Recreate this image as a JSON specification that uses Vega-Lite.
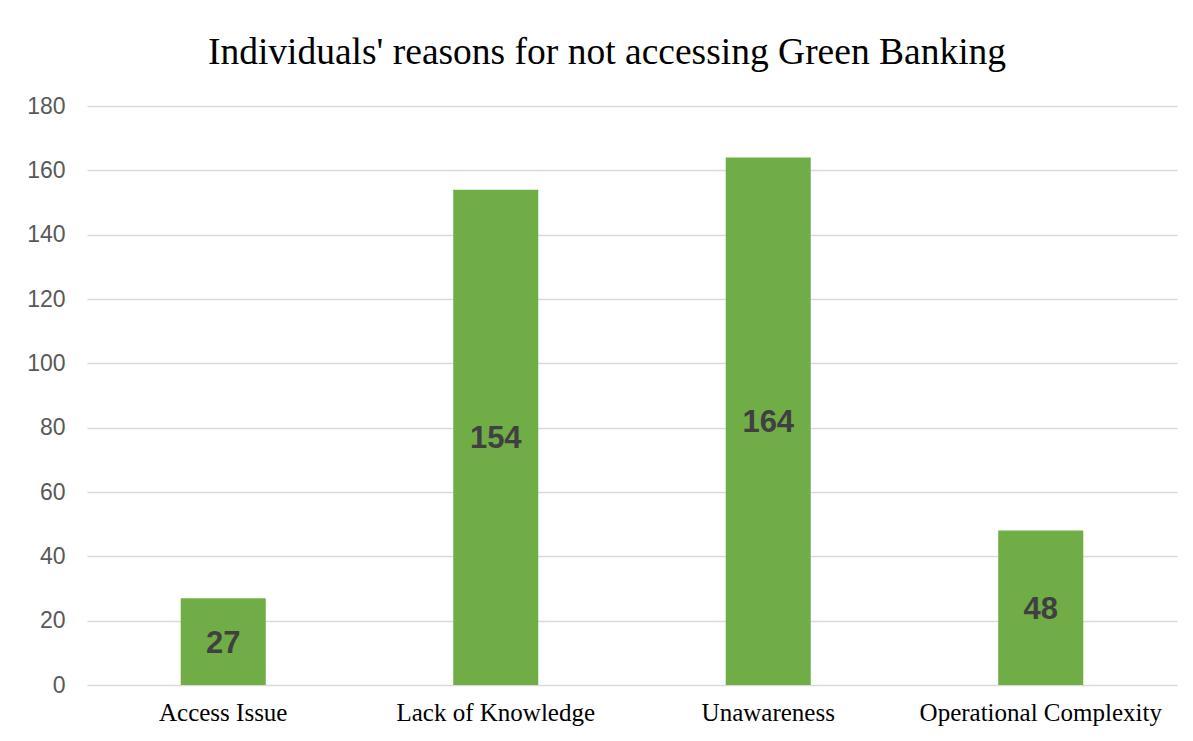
{
  "$schema": "https://vega.github.io/schema/vega-lite/v6.json",
  "autosize": "none",
  "width": 1090,
  "height": 579,
  "padding": {"left": 87, "top": 106, "right": 16, "bottom": 56},
  "background": "white",
  "title": {
    "text": "Individuals' reasons for not accessing Green Banking",
    "font": "Liberation Serif",
    "fontSize": 37.5,
    "fontWeight": "normal",
    "color": "#000000",
    "anchor": "middle",
    "frame": "group",
    "dx": -25,
    "offset": 24
  },
  "data": {
    "values": [
      {"reason": "Access Issue", "count": 27},
      {"reason": "Lack of Knowledge", "count": 154},
      {"reason": "Unawareness", "count": 164},
      {"reason": "Operational Complexity", "count": 48}
    ]
  },
  "encoding": {
    "x": {
      "field": "reason",
      "type": "nominal",
      "sort": null,
      "scale": {"paddingInner": 0.688, "paddingOuter": 0.344},
      "axis": {
        "title": null,
        "labelAngle": 0,
        "labelFont": "Liberation Serif",
        "labelFontSize": 25,
        "labelColor": "#000000",
        "labelPadding": 15,
        "labelLimit": 0,
        "ticks": false,
        "domain": false
      }
    }
  },
  "layer": [
    {
      "mark": {"type": "bar", "color": "#70AD47"},
      "encoding": {
        "y": {
          "field": "count",
          "type": "quantitative",
          "scale": {"domain": [0, 180], "nice": false},
          "axis": {
            "title": null,
            "values": [0, 20, 40, 60, 80, 100, 120, 140, 160, 180],
            "labelFont": "Liberation Sans",
            "labelFontSize": 23,
            "labelColor": "#595959",
            "labelPadding": 22,
            "ticks": false,
            "domain": false,
            "grid": true,
            "gridColor": "#d9d9d9",
            "gridWidth": 1.5
          }
        }
      }
    },
    {
      "mark": {
        "type": "text",
        "font": "Liberation Sans",
        "fontSize": 31,
        "fontWeight": "bold",
        "color": "#404040",
        "baseline": "middle",
        "dy": 2
      },
      "encoding": {
        "y": {"datum": 0, "type": "quantitative"},
        "yOffset": {
          "field": "count",
          "type": "quantitative",
          "scale": {"domain": [0, 180], "range": [0, -289.5], "nice": false, "zero": true}
        },
        "text": {"field": "count", "type": "quantitative"}
      }
    }
  ],
  "config": {"view": {"stroke": null}}
}
